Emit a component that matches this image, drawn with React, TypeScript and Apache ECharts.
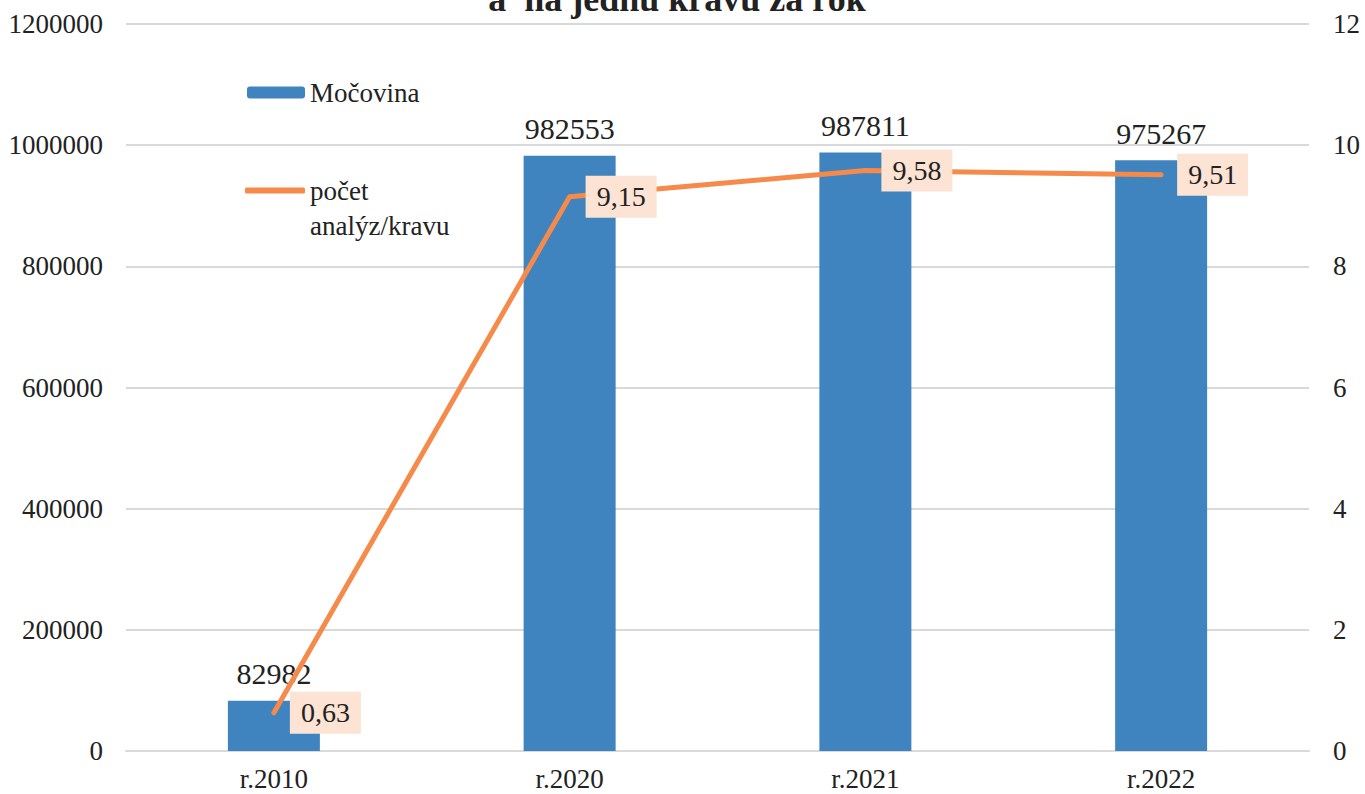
import React, { useEffect, useRef } from "react";
import * as echarts from "echarts";

const categories = ["r.2010", "r.2020", "r.2021", "r.2022"];
const mocovina = [82982, 982553, 987811, 975267];
const analyzKravu = [0.63, 9.15, 9.58, 9.51];
const leftTicks = { min: 0, max: 1200000, interval: 200000 };
const rightTicks = { min: 0, max: 12, interval: 2 };
const titleLine = "a  na jednu krávu za rok";
const barName = "Močovina";
const lineName = "počet analýz/kravu";
const lineLegendLines = ["počet", "analýz/kravu"];

const FONT = "Liberation Serif";
const TXT = "#222222";
const ORANGE = "#F58A4B";

export default function App() {
  const ref = useRef<HTMLDivElement>(null);
  useEffect(() => {
    document.body.style.margin = "0";
    const chart = echarts.init(ref.current!, null, { renderer: "svg" });
    chart.setOption({
      animation: false,
      textStyle: { fontFamily: FONT },
      graphic: [
        {
          type: "text",
          x: 677,
          y: -1,
          style: {
            text: titleLine,
            fontFamily: FONT,
            fontWeight: "bold",
            fontSize: 36,
            fill: TXT,
            align: "center",
            verticalAlign: "middle",
          },
        },
        {
          type: "text",
          x: 310,
          y: 226,
          style: {
            text: lineLegendLines[1],
            fontFamily: FONT,
            fontSize: 27,
            fill: TXT,
            align: "left",
            verticalAlign: "middle",
          },
        },
      ],
      legend: [
        {
          data: [barName],
          left: 247,
          top: 76,
          padding: 0,
          itemWidth: 58,
          itemHeight: 12,
          textStyle: { fontFamily: FONT, fontSize: 27, color: TXT, lineHeight: 33 },
        },
        {
          data: [{ name: lineName, icon: "roundRect" }],
          left: 245,
          top: 174,
          padding: 0,
          itemWidth: 60,
          itemHeight: 6,
          itemStyle: { color: ORANGE },
          formatter: () => lineLegendLines[0],
          textStyle: { fontFamily: FONT, fontSize: 27, color: TXT, lineHeight: 33 },
        },
      ],
      grid: { left: 126, right: 56, top: 24, bottom: 43, containLabel: false, outerBoundsMode: "none" },
      xAxis: {
        type: "category",
        data: categories,
        axisTick: { show: false },
        axisLine: { lineStyle: { color: "#D9D9D9", width: 2 } },
        axisLabel: { fontFamily: FONT, fontSize: 27, color: TXT, margin: 14 },
      },
      yAxis: [
        {
          type: "value",
          ...leftTicks,
          axisLine: { show: false },
          axisTick: { show: false },
          splitLine: { lineStyle: { color: "#D9D9D9", width: 2 } },
          axisLabel: {
            fontFamily: FONT,
            fontSize: 27,
            color: TXT,
            margin: 23,
            formatter: (v: number) => String(v),
          },
        },
        {
          type: "value",
          ...rightTicks,
          position: "right",
          axisLine: { show: false },
          axisTick: { show: false },
          splitLine: { show: false },
          axisLabel: {
            fontFamily: FONT,
            fontSize: 27,
            color: TXT,
            margin: 24,
            formatter: (v: number) => String(v),
          },
        },
      ],
      series: [
        {
          name: barName,
          type: "bar",
          data: mocovina,
          barWidth: 92,
          itemStyle: { color: "#3F83BF" },
          label: {
            show: true,
            position: "top",
            distance: 12,
            fontFamily: FONT,
            fontSize: 30,
            color: TXT,
            formatter: (p: any) => String(p.value),
          },
        },
        {
          name: lineName,
          type: "line",
          yAxisIndex: 1,
          data: analyzKravu,
          symbol: "circle",
          symbolSize: 2,
          showSymbol: true,
          itemStyle: { color: ORANGE },
          lineStyle: { color: ORANGE, width: 5, cap: "round", join: "round" },
          label: {
            show: true,
            position: "right",
            distance: 15,
            fontFamily: FONT,
            fontSize: 28,
            color: TXT,
            backgroundColor: "#FCE3D3",
            padding: [7, 11, 7, 11],
            formatter: (p: any) => String(p.value).replace(".", ","),
          },
        },
      ],
    });
    return () => chart.dispose();
  }, []);
  return <div ref={ref} style={{ width: 1365, height: 794 }} />;
}
